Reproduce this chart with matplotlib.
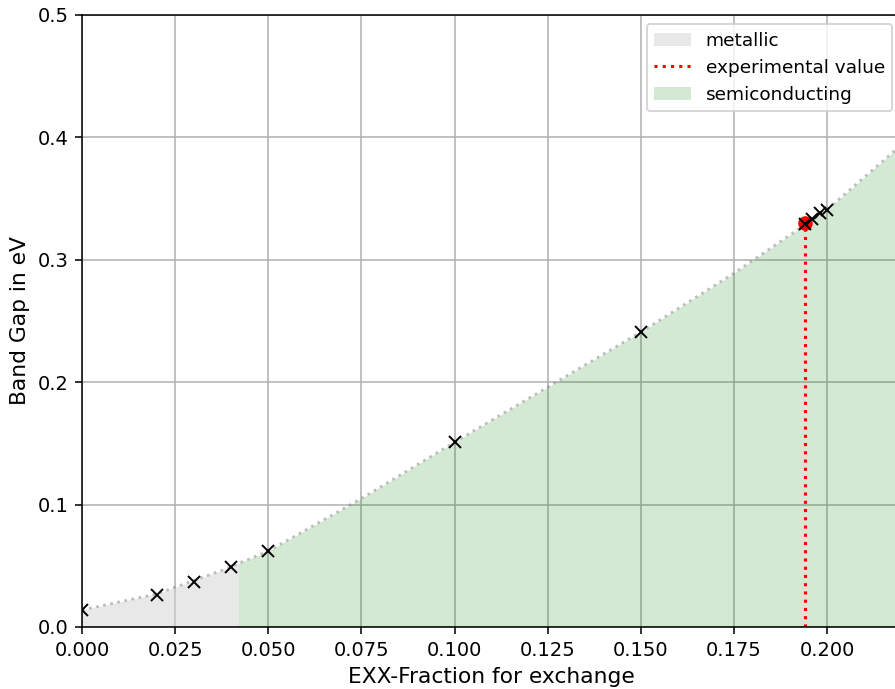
import numpy as np
import matplotlib
matplotlib.use('Agg')
from matplotlib import pyplot as plt

# computed band gaps
exx = [0.0, 0.02, 0.03, 0.04, 0.05, 0.10, 0.15, 0.194, 0.196, 0.198, 0.20]
gap = [0.014, 0.026, 0.037, 0.049, 0.062, 0.151, 0.241, 0.329, 0.333, 0.338, 0.341]

# interpolated curve
curve_x = [0.0, 0.02, 0.04, 0.042, 0.05, 0.075, 0.10, 0.125, 0.15, 0.175, 0.20, 0.22]
curve_y = [0.014, 0.027, 0.049, 0.052, 0.062, 0.105, 0.151, 0.196, 0.241, 0.289, 0.341, 0.394]

exp_x = 0.194
exp_gap = 0.330
metal_limit = 0.042

fig = plt.figure(figsize=(895 / 140, 689 / 140), dpi=140)
# right side of the axes runs a bit past the figure edge (cropped like the original)
ax = fig.add_axes([82 / 895, 62 / 689, (901.5 - 82) / 895, 612 / 689])

cx = np.array(curve_x)
cy = np.array(curve_y)
ax.fill_between(cx, 0, cy, where=cx <= metal_limit, color='lightgrey', alpha=0.5,
                linewidth=0, label='metallic')
ax.plot(cx, cy, ':', color='grey', alpha=0.5, linewidth=1.4)
ax.plot([exp_x, exp_x], [0, exp_gap], ':', color='red', linewidth=1.6, label='experimental value')
ax.fill_between(cx, 0, cy, where=cx >= metal_limit, color='green', alpha=0.17,
                linewidth=0, label='semiconducting')
ax.plot(exp_x, exp_gap, 'o', color='red', markersize=6.5)
ax.plot(exx, gap, 'x', color='black', markersize=6)

ax.set_xlim(0, 0.22)
ax.set_ylim(0, 0.5)
ax.set_xticks(np.arange(0, 0.201, 0.025))
ax.set_yticks(np.arange(0, 0.51, 0.1))
ax.grid(True)
ax.set_axisbelow(True)
ax.set_xlabel('EXX-Fraction for exchange', fontsize=11.2)
ax.set_ylabel('Band Gap in eV', fontsize=11.2)
ax.legend(loc='upper right', fontsize=9.5)

fig.savefig('out.png', dpi=140)
